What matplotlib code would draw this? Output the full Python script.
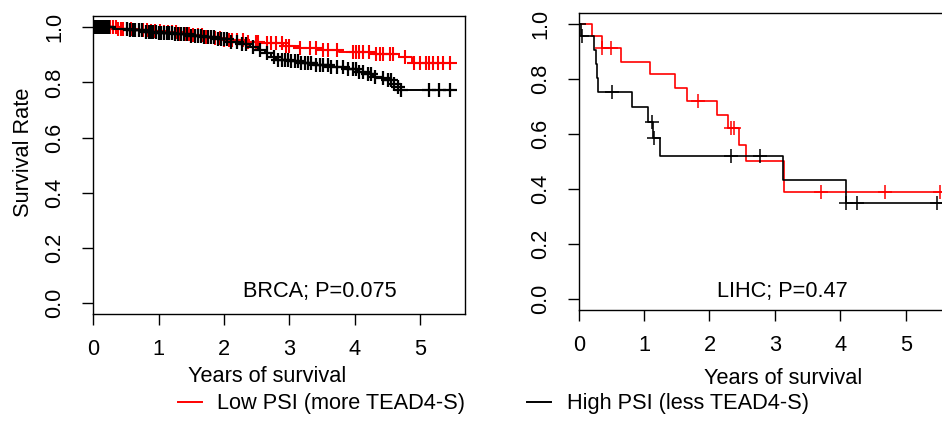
import numpy as np
import matplotlib
matplotlib.use("Agg")
from matplotlib import pyplot as plt

plt.rcParams['font.family'] = ['Liberation Sans', 'DejaVu Sans']

####################################################

# BRCA, low PSI (red) and high PSI (black): step times, survival, censor times

brca_low_t = [0.35, 0.6, 0.85, 1.05, 1.3, 1.5, 1.7, 1.85, 1.98, 2.3, 2.6, 2.9,
              3.15, 3.5, 3.75, 4.3, 4.68, 4.88]
brca_low_s = [0.995, 0.99, 0.986, 0.982, 0.977, 0.972, 0.966, 0.96, 0.954, 0.948,
              0.942, 0.933, 0.924, 0.918, 0.912, 0.905, 0.894, 0.872]
brca_low_cens = [0.02, 0.05, 0.08, 0.12, 0.15, 0.2, 0.26, 0.3, 0.34, 0.38, 0.42,
                 0.46, 0.52, 0.58, 0.63, 0.7, 0.76, 0.82, 0.88, 0.95, 1.02, 1.08,
                 1.14, 1.2, 1.27, 1.33, 1.4, 1.46, 1.52, 1.6, 1.66, 1.72, 1.8,
                 1.86, 1.93, 2.0, 2.07, 2.12, 2.19, 2.29, 2.37, 2.49, 2.52, 2.65,
                 2.72, 2.8, 2.88, 2.95, 3.0, 3.16, 3.31, 3.41, 3.51, 3.59, 3.72,
                 3.97, 4.02, 4.07, 4.12, 4.22, 4.33, 4.38, 4.43, 4.53, 4.58, 4.76,
                 4.91, 4.99, 5.09, 5.14, 5.19, 5.27, 5.34, 5.45]

brca_high_t = [0.3, 0.55, 0.8, 1.0, 1.25, 1.5, 1.7, 1.9, 2.1, 2.25, 2.4, 2.52,
               2.62, 2.72, 2.8, 3.0, 3.15, 3.4, 3.62, 3.85, 4.03, 4.15, 4.28, 4.4,
               4.48, 4.6, 4.66, 4.7]
brca_high_s = [0.995, 0.99, 0.985, 0.98, 0.975, 0.97, 0.964, 0.957, 0.948, 0.94,
               0.928, 0.918, 0.906, 0.893, 0.883, 0.877, 0.87, 0.864, 0.857, 0.848,
               0.839, 0.83, 0.821, 0.815, 0.808, 0.795, 0.784, 0.773]
brca_high_cens = [0.01, 0.03, 0.05, 0.07, 0.09, 0.11, 0.13, 0.15, 0.17, 0.19,
                  0.21, 0.24, 0.52, 0.56, 0.6, 0.64, 0.7, 0.75, 0.8, 0.85, 0.88,
                  0.92, 0.96, 1.0, 1.04, 1.08, 1.12, 1.16, 1.2, 1.25, 1.3, 1.34,
                  1.38, 1.44, 1.5, 1.55, 1.6, 1.65, 1.7, 1.75, 1.8, 1.85, 1.9,
                  1.95, 2.0, 2.05, 2.1, 2.19, 2.27, 2.34, 2.44, 2.55, 2.65, 2.77,
                  2.83, 2.88, 2.93, 2.98, 3.03, 3.08, 3.13, 3.18, 3.23, 3.28, 3.33,
                  3.41, 3.46, 3.51, 3.59, 3.64, 3.72, 3.82, 3.89, 3.97, 4.02, 4.07,
                  4.12, 4.2, 4.25, 4.3, 4.43, 4.5, 4.55, 4.6, 4.66, 4.71, 5.14,
                  5.29, 5.45]
brca_end = 5.55

# LIHC

lihc_low_t = [0.21, 0.36, 0.65, 1.09, 1.47, 1.66, 2.12, 2.28, 2.45, 2.56, 3.14]
lihc_low_s = [0.957, 0.912, 0.863, 0.817, 0.769, 0.721, 0.669, 0.621, 0.561,
              0.503, 0.391]
lihc_low_cens = [0.36, 0.5, 1.82, 2.33, 2.37, 3.71, 4.69, 5.52]

lihc_high_t = [0.03, 0.24, 0.26, 0.28, 0.3, 0.81, 1.06, 1.14, 1.25, 3.12, 4.09]
lihc_high_s = [0.957, 0.905, 0.855, 0.805, 0.754, 0.697, 0.645, 0.585, 0.522,
               0.433, 0.349]
lihc_high_cens = [0.01, 0.05, 0.51, 1.12, 1.15, 2.33, 2.77, 4.09, 4.25, 5.48]
lihc_end = 5.75

labels = ["Low PSI (more TEAD4-S)", "High PSI (less TEAD4-S)"]
colors = ["red", "black"]

####################################################

W, H = 942, 422
FS = 15.7


def px(x, y):
    return x / W, 1 - y / H


def km(ax, t, s, cens, end, col, lw=1.1, mew=1.0):
    tt = np.r_[0, t, end]
    ss = np.r_[1, s, s[-1]]
    line, = ax.step(tt, ss, where="post", color=col, lw=lw)
    idx = np.searchsorted(tt, cens, side="right") - 1
    ax.plot(cens, ss[idx], ls="none", marker="+", ms=9.5, mew=mew, color=col)
    return line


def style(ax):
    ax.set_xlim(0, 5.69)
    ax.set_ylim(-0.04, 1.04)
    ax.set_xticks([0, 1, 2, 3, 4, 5])
    ax.set_yticks([0, 0.2, 0.4, 0.6, 0.8, 1.0])
    ax.set_yticklabels(["0.0", "0.2", "0.4", "0.6", "0.8", "1.0"],
                       rotation=90, va="center")
    ax.tick_params(axis="both", direction="out", length=8, width=1, labelsize=FS)
    ax.tick_params(axis="x", pad=10)
    ax.tick_params(axis="y", pad=12)
    for sp in ax.spines.values():
        sp.set_linewidth(1)


fig = plt.figure(figsize=(W / 100, H / 100), dpi=100)

ax1 = fig.add_axes([93.3 / W, (H - 313.7) / H, 372.1 / W, 297.3 / H])
l1 = km(ax1, brca_low_t, brca_low_s, brca_low_cens, brca_end, colors[0], 1.4, 1.5)
l2 = km(ax1, brca_high_t, brca_high_s, brca_high_cens, brca_end, colors[1], 1.4, 1.6)
style(ax1)

ax2 = fig.add_axes([578.7 / W, (H - 310.3) / H, 372.1 / W, 297.3 / H])
km(ax2, lihc_low_t, lihc_low_s, lihc_low_cens, lihc_end, colors[0], 1.2, 1.1)
km(ax2, lihc_high_t, lihc_high_s, lihc_high_cens, lihc_end, colors[1], 1.2, 1.1)
style(ax2)

fig.text(*px(23.5, 152.5), "Survival Rate", rotation=90, ha="center",
         va="center", fontsize=FS)
fig.text(*px(267, 382), "Years of survival", ha="center", va="baseline", fontsize=FS)
fig.text(*px(783, 383.5), "Years of survival", ha="center", va="baseline", fontsize=FS)
fig.text(*px(320, 297.5), "BRCA; P=0.075", ha="center", va="baseline", fontsize=FS)
fig.text(*px(782, 297.5), "LIHC; P=0.47", ha="center", va="baseline", fontsize=FS)

fig.legend([l1, l2], labels, loc="center left", bbox_to_anchor=px(178, 404),
           ncol=2, frameon=False, fontsize=FS, borderpad=0, borderaxespad=0,
           handlelength=1.1, handletextpad=0.7, columnspacing=2.85)

fig.savefig("out.png", dpi=100)
